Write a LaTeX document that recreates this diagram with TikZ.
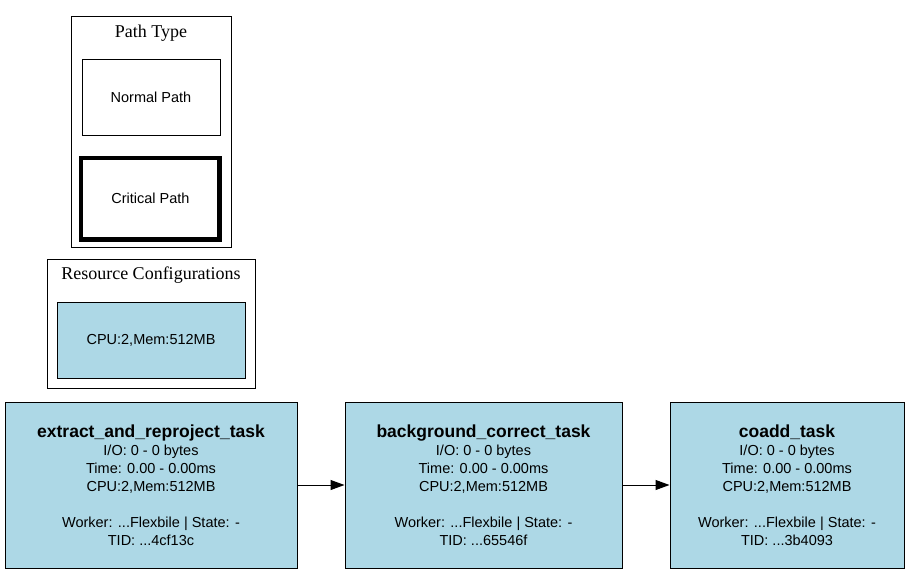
\documentclass[tikz,border=0pt]{standalone}
\usepackage{fontspec}
\setmainfont{Liberation Sans}
\newfontfamily\clusterfont{Liberation Serif}
\usepackage{tikz}
\usetikzlibrary{arrows.meta,positioning}
\definecolor{bleuclair}{RGB}{173,216,230}
\tikzset{
  cluster/.style={draw,line width=1pt},
  clustertitle/.style={font=\clusterfont\fontsize{18}{20}\selectfont},
  legendbox/.style={draw,line width=1pt,inner sep=0pt,font=\fontsize{14.5}{17.5}\selectfont},
  taskbox/.style={draw,line width=1pt,fill=bleuclair,inner sep=0pt,minimum height=166pt,align=center,font=\fontsize{14.5}{18}\selectfont},
  flow/.style={-{Triangle[length=14pt,width=10pt]},line width=1pt}
}
\newcommand{\tasktitle}[1]{{\fontsize{17.5}{20}\selectfont\bfseries #1}}
\begin{document}
\begin{tikzpicture}[x=1pt,y=-1pt]
\useasboundingbox (0,0) rectangle (908,574);
% legende des chemins
\draw[cluster] (71,16) rectangle (231,247);
\node[clustertitle] (titrechemin) at (151,33) {Path Type};
\node[legendbox,minimum width=138pt,minimum height=76pt] (normal) at (151,97) {Normal Path};
\node[legendbox,line width=4.5pt,minimum width=138.5pt,minimum height=81.5pt] (critique) at (150.4,198.5) {Critical Path};
% ressources
\draw[cluster] (47,259) rectangle (255,388);
\node[clustertitle] (titreressource) at (151,275) {Resource Configurations};
\node[legendbox,fill=bleuclair,minimum width=188pt,minimum height=76pt] (ressource) at (151,340) {CPU:2,Mem:512MB};
% taches
\node[taskbox,minimum width=292pt] (extract) at (151,485) {\tasktitle{extract\_and\_reproject\_task}\\I/O: 0 - 0 bytes\\Time: 0.00 - 0.00ms\\CPU:2,Mem:512MB\\[18pt]Worker: ...Flexbile | State: -\\TID: ...4cf13c};
\node[taskbox,minimum width=277pt] (background) at (483.5,485) {\tasktitle{background\_correct\_task}\\I/O: 0 - 0 bytes\\Time: 0.00 - 0.00ms\\CPU:2,Mem:512MB\\[18pt]Worker: ...Flexbile | State: -\\TID: ...65546f};
\node[taskbox,minimum width=234pt] (coadd) at (787,485) {\tasktitle{coadd\_task}\\I/O: 0 - 0 bytes\\Time: 0.00 - 0.00ms\\CPU:2,Mem:512MB\\[18pt]Worker: ...Flexbile | State: -\\TID: ...3b4093};
\draw[flow] (extract) -- (background);
\draw[flow] (background) -- (coadd);
\end{tikzpicture}
\end{document}
